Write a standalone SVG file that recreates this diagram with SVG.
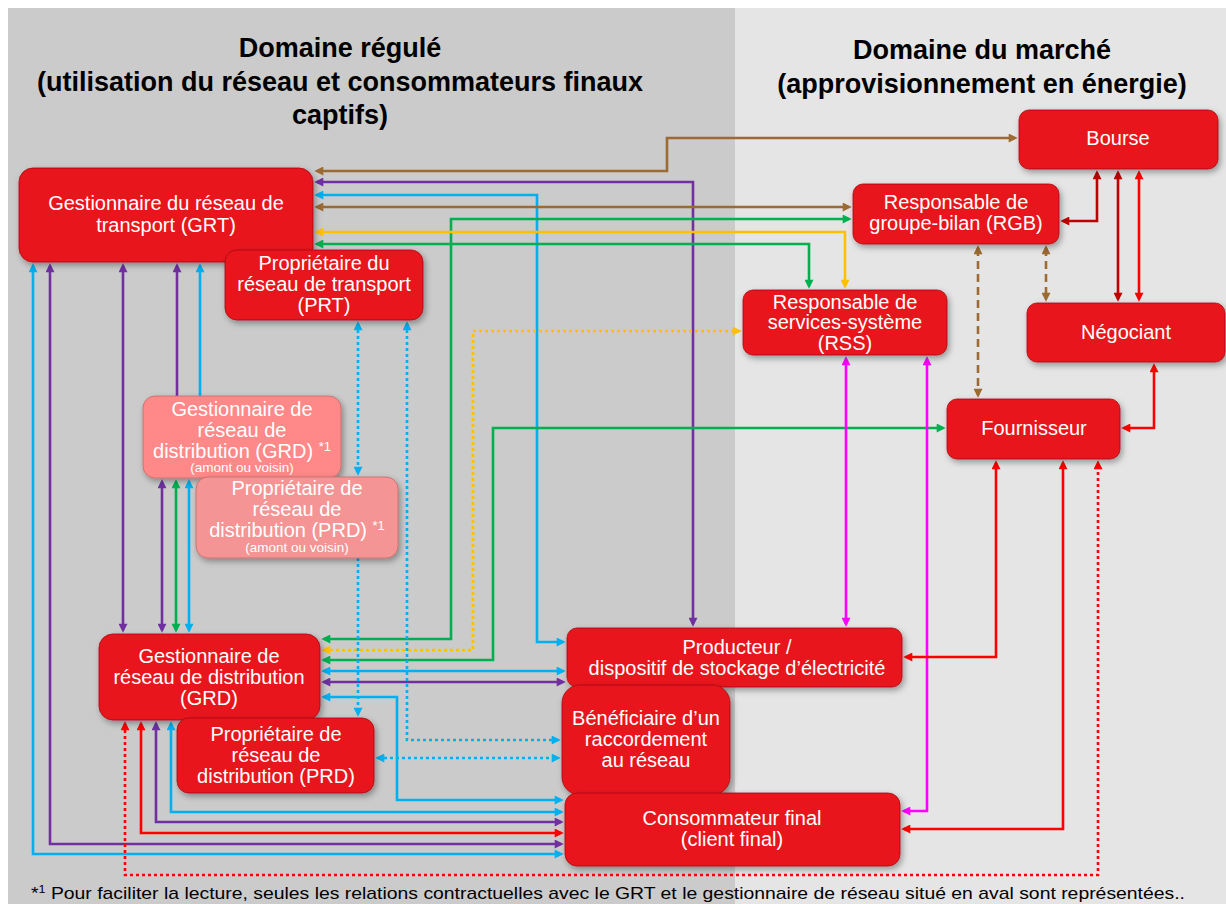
<svg xmlns="http://www.w3.org/2000/svg" width="1226" height="904" viewBox="0 0 1226 904">
<style>
text{font-family:"Liberation Sans",Arial,sans-serif}
.h{font-size:27px;font-weight:bold;fill:#000;text-anchor:middle}
.t{font-size:20px;fill:#fff;text-anchor:middle}
.s{font-size:13.5px}
.sup{font-size:13px}
.box{fill:#e8141c;stroke:#a80d12;stroke-width:0.8;filter:url(#sh)}
.c{fill:none;stroke-width:2.6}
.brown{stroke:#9c6a33}
.purple{stroke:#7030a0}
.cyan{stroke:#00b0f0}
.green{stroke:#00b050}
.yellow{stroke:#ffc000}
.red{stroke:#ff0000}
.dred{stroke:#c00000}
.mag{stroke:#ff00ff}
.dot{stroke-dasharray:3 3}
.dash{stroke-dasharray:8 5}
</style>
<defs>
<filter id="sh" x="-10%" y="-10%" width="125%" height="130%">
<feDropShadow dx="2" dy="3" stdDeviation="3" flood-color="#000" flood-opacity="0.35"/>
</filter>
<marker id="mbr" viewBox="0 0 10 10" refX="7" refY="5" markerWidth="10" markerHeight="9" markerUnits="userSpaceOnUse" orient="auto-start-reverse"><path d="M0,0L10,5L0,10z" fill="#9c6a33"/></marker>
<marker id="mpu" viewBox="0 0 10 10" refX="7" refY="5" markerWidth="10" markerHeight="9" markerUnits="userSpaceOnUse" orient="auto-start-reverse"><path d="M0,0L10,5L0,10z" fill="#7030a0"/></marker>
<marker id="mcy" viewBox="0 0 10 10" refX="7" refY="5" markerWidth="10" markerHeight="9" markerUnits="userSpaceOnUse" orient="auto-start-reverse"><path d="M0,0L10,5L0,10z" fill="#00b0f0"/></marker>
<marker id="mgr" viewBox="0 0 10 10" refX="7" refY="5" markerWidth="10" markerHeight="9" markerUnits="userSpaceOnUse" orient="auto-start-reverse"><path d="M0,0L10,5L0,10z" fill="#00b050"/></marker>
<marker id="mye" viewBox="0 0 10 10" refX="7" refY="5" markerWidth="10" markerHeight="9" markerUnits="userSpaceOnUse" orient="auto-start-reverse"><path d="M0,0L10,5L0,10z" fill="#ffc000"/></marker>
<marker id="mre" viewBox="0 0 10 10" refX="7" refY="5" markerWidth="10" markerHeight="9" markerUnits="userSpaceOnUse" orient="auto-start-reverse"><path d="M0,0L10,5L0,10z" fill="#ff0000"/></marker>
<marker id="mdr" viewBox="0 0 10 10" refX="7" refY="5" markerWidth="10" markerHeight="9" markerUnits="userSpaceOnUse" orient="auto-start-reverse"><path d="M0,0L10,5L0,10z" fill="#c00000"/></marker>
<marker id="mma" viewBox="0 0 10 10" refX="7" refY="5" markerWidth="10" markerHeight="9" markerUnits="userSpaceOnUse" orient="auto-start-reverse"><path d="M0,0L10,5L0,10z" fill="#ff00ff"/></marker>
</defs>

<rect x="0" y="0" width="1226" height="904" fill="#ffffff"/>
<rect x="8" y="8" width="727" height="896" fill="#cbcbcb"/>
<rect x="735" y="8" width="491" height="896" fill="#e5e5e5"/>

<g id="headings">
<text class="h" x="340" y="57">Domaine régulé</text>
<text class="h" x="340" y="91">(utilisation du réseau et consommateurs finaux</text>
<text class="h" x="340" y="124">captifs)</text>
<text class="h" x="982" y="59">Domaine du marché</text>
<text class="h" x="982" y="93">(approvisionnement en énergie)</text>
</g>

<g id="connectors">
<path class="c brown" d="M317,171H667V138H1015" marker-start="url(#mbr)" marker-end="url(#mbr)"/>
<path class="c purple" d="M317,182H693V624" marker-start="url(#mpu)" marker-end="url(#mpu)"/>
<path class="c cyan" d="M317,195H537V642H563" marker-start="url(#mcy)" marker-end="url(#mcy)"/>
<path class="c brown" d="M317,207H849" marker-start="url(#mbr)" marker-end="url(#mbr)"/>
<path class="c green" d="M849,219H451V639H324" marker-start="url(#mgr)" marker-end="url(#mgr)"/>
<path class="c yellow" d="M317,232H845V286" marker-start="url(#mye)" marker-end="url(#mye)"/>
<path class="c green" d="M317,244H809V286" marker-start="url(#mgr)" marker-end="url(#mgr)"/>
<path class="c yellow dot" d="M324,650H473V331H739" marker-start="url(#mye)" marker-end="url(#mye)"/>
<path class="c green" d="M943,428H493V660H324" marker-start="url(#mgr)" marker-end="url(#mgr)"/>
<path class="c cyan" d="M324,671H563" marker-start="url(#mcy)" marker-end="url(#mcy)"/>
<path class="c purple" d="M324,682H563" marker-start="url(#mpu)" marker-end="url(#mpu)"/>
<path class="c cyan" d="M324,697H397V800H561" marker-start="url(#mcy)" marker-end="url(#mcy)"/>
<path class="c cyan dot" d="M358,324V473" marker-start="url(#mcy)" marker-end="url(#mcy)"/>
<path class="c cyan dot" d="M358,480V714" marker-end="url(#mcy)"/>
<path class="c cyan dot" d="M407,324V740H558" marker-start="url(#mcy)" marker-end="url(#mcy)"/>
<path class="c cyan dot" d="M378,758H558" marker-start="url(#mcy)" marker-end="url(#mcy)"/>
<path class="c cyan" d="M171,724V812H561" marker-start="url(#mcy)" marker-end="url(#mcy)"/>
<path class="c purple" d="M156,724V822H561" marker-start="url(#mpu)" marker-end="url(#mpu)"/>
<path class="c red" d="M141,724V833H561" marker-start="url(#mre)" marker-end="url(#mre)"/>
<path class="c purple" d="M50,266V844H561" marker-start="url(#mpu)" marker-end="url(#mpu)"/>
<path class="c cyan" d="M33,266V854H561" marker-start="url(#mcy)" marker-end="url(#mcy)"/>
<path class="c red dot" d="M125,724V875H1098V463" marker-start="url(#mre)" marker-end="url(#mre)"/>
<path class="c purple" d="M123,266V630" marker-start="url(#mpu)" marker-end="url(#mpu)"/>
<path class="c purple" d="M177,266V400" marker-start="url(#mpu)"/>
<path class="c cyan" d="M200,266V400" marker-start="url(#mcy)"/>
<path class="c purple" d="M162,482V630" marker-start="url(#mpu)" marker-end="url(#mpu)"/>
<path class="c green" d="M176,482V630" marker-start="url(#mgr)" marker-end="url(#mgr)"/>
<path class="c cyan" d="M189,482V630" marker-start="url(#mcy)" marker-end="url(#mcy)"/>
<path class="c dred" d="M1063,221H1097V173" marker-start="url(#mdr)" marker-end="url(#mdr)"/>
<path class="c dred" d="M1118,173V299" marker-start="url(#mdr)" marker-end="url(#mdr)"/>
<path class="c red" d="M1139,173V299" marker-start="url(#mre)" marker-end="url(#mre)"/>
<path class="c brown dash" d="M978,248V395" marker-start="url(#mbr)" marker-end="url(#mbr)"/>
<path class="c brown dash" d="M1046,248V299" marker-start="url(#mbr)" marker-end="url(#mbr)"/>
<path class="c red" d="M1154,366V428H1124" marker-start="url(#mre)" marker-end="url(#mre)"/>
<path class="c mag" d="M846,359V624" marker-start="url(#mma)" marker-end="url(#mma)"/>
<path class="c mag" d="M927,359V811H904" marker-start="url(#mma)" marker-end="url(#mma)"/>
<path class="c red" d="M996,463V657H906" marker-start="url(#mre)" marker-end="url(#mre)"/>
<path class="c red" d="M1063,463V829H904" marker-start="url(#mre)" marker-end="url(#mre)"/>
</g>

<g id="grt">
<rect class="box" x="19" y="168" width="294" height="94" rx="14"/>
<text class="t" x="166" y="210">Gestionnaire du réseau de</text>
<text class="t" x="166" y="232">transport (GRT)</text>
</g>
<g id="prt">
<rect class="box" x="225" y="250" width="198" height="70" rx="12"/>
<text class="t" x="324" y="270">Propriétaire du</text>
<text class="t" x="324" y="291">réseau de transport</text>
<text class="t" x="324" y="312">(PRT)</text>
</g>
<g id="bourse">
<rect class="box" x="1019" y="110" width="199" height="59" rx="10"/>
<text class="t" x="1118" y="145">Bourse</text>
</g>
<g id="rgb">
<rect class="box" x="853" y="184" width="206" height="60" rx="10"/>
<text class="t" x="956" y="209">Responsable de</text>
<text class="t" x="956" y="230">groupe-bilan (RGB)</text>
</g>
<g id="rss">
<rect class="box" x="743" y="290" width="204" height="65" rx="10"/>
<text class="t" x="845" y="309">Responsable de</text>
<text class="t" x="845" y="329">services-système</text>
<text class="t" x="845" y="350">(RSS)</text>
</g>
<g id="negociant">
<rect class="box" x="1027" y="303" width="198" height="59" rx="10"/>
<text class="t" x="1126" y="339">Négociant</text>
</g>
<g id="fournisseur">
<rect class="box" x="947" y="399" width="173" height="60" rx="10"/>
<text class="t" x="1034" y="435">Fournisseur</text>
</g>
<g id="grd-amont">
<rect class="box" x="143" y="396" width="198" height="82" rx="12" style="fill:#ff8888;stroke:#c46a6a"/>
<text class="t" x="242" y="416">Gestionnaire de</text>
<text class="t" x="242" y="437">réseau de</text>
<text class="t" x="242" y="458">distribution (GRD) <tspan class="sup" dy="-7">*1</tspan></text>
<text class="t s" x="242" y="472">(amont ou voisin)</text>
</g>
<g id="prd-amont">
<rect class="box" x="196" y="477" width="202" height="81" rx="12" style="fill:#f49494;stroke:#c46a6a"/>
<text class="t" x="297" y="495">Propriétaire de</text>
<text class="t" x="297" y="516">réseau de</text>
<text class="t" x="297" y="537">distribution (PRD) <tspan class="sup" dy="-7">*1</tspan></text>
<text class="t s" x="297" y="552">(amont ou voisin)</text>
</g>
<g id="grd">
<rect class="box" x="99" y="634" width="221" height="86" rx="14"/>
<text class="t" x="209" y="663">Gestionnaire de</text>
<text class="t" x="209" y="684">réseau de distribution</text>
<text class="t" x="209" y="705">(GRD)</text>
</g>
<g id="prd">
<rect class="box" x="177" y="718" width="197" height="75" rx="12"/>
<text class="t" x="276" y="741">Propriétaire de</text>
<text class="t" x="276" y="762">réseau de</text>
<text class="t" x="276" y="783">distribution (PRD)</text>
</g>
<g id="producteur">
<rect class="box" x="567" y="628" width="335" height="59" rx="10"/>
<text class="t" x="737" y="654">Producteur /</text>
<text class="t" x="737" y="675">dispositif de stockage d’électricité</text>
</g>
<g id="beneficiaire">
<rect class="box" x="562" y="685" width="168" height="110" rx="18"/>
<text class="t" x="646" y="725">Bénéficiaire d’un</text>
<text class="t" x="646" y="746">raccordement</text>
<text class="t" x="646" y="767">au réseau</text>
</g>
<g id="consommateur">
<rect class="box" x="565" y="793" width="335" height="73" rx="12"/>
<text class="t" x="732" y="825">Consommateur final</text>
<text class="t" x="732" y="846">(client final)</text>
</g>

<text x="31" y="899" style="font-size:17px;fill:#000" textLength="1154" lengthAdjust="spacingAndGlyphs">*<tspan style="font-size:11px" dy="-6">1</tspan><tspan dy="6"> Pour faciliter la lecture, seules les relations contractuelles avec le GRT et le gestionnaire de réseau situé en aval sont représentées..</tspan></text>
</svg>
